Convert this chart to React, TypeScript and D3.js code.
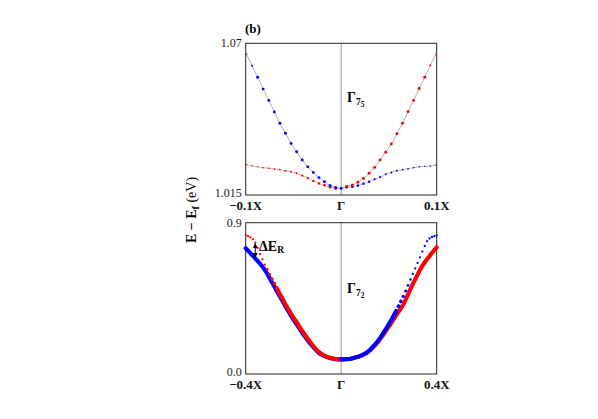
import React from 'react';
import * as d3 from 'd3';

const W = 598;
const H = 419;

// ---- upper panel (b): bands near 1.02 eV, |k| sampled on each side of Γ ----
const kTop = [0.0058, 0.0117, 0.0175, 0.0233, 0.0292, 0.035, 0.0408, 0.0467, 0.0525,
  0.0583, 0.0642, 0.07, 0.0758, 0.0817, 0.0875, 0.0933, 0.0992];
const topGamma = 1.0174;
const topUpperLeft = [1.0177, 1.0184, 1.0198, 1.0213, 1.0232, 1.0252, 1.0277, 1.0307, 1.0337,
  1.0374, 1.041, 1.0451, 1.0493, 1.0534, 1.0577, 1.0619, 1.0661];
const topUpperRight = [1.0181, 1.0186, 1.0196, 1.021, 1.0229, 1.025, 1.0277, 1.0305, 1.0335,
  1.0372, 1.041, 1.0452, 1.0493, 1.0536, 1.0577, 1.062, 1.0661];
const topLowerLeft = [1.0173, 1.0178, 1.0185, 1.0192, 1.0201, 1.0211, 1.022, 1.0229, 1.0234,
  1.0238, 1.0242, 1.0244, 1.0247, 1.0249, 1.0252, 1.0256, 1.026];
const topLowerRight = [1.0178, 1.018, 1.0184, 1.0191, 1.0198, 1.0207, 1.0215, 1.0225, 1.0232,
  1.0238, 1.0242, 1.0245, 1.0249, 1.0252, 1.0254, 1.0255, 1.0259];

// ---- lower panel: Γ7 bands, |k| from 0 to 0.4 ----
const kBot = [0, 0.01, 0.02, 0.03, 0.04, 0.05, 0.06, 0.07, 0.08, 0.09, 0.1, 0.11, 0.12, 0.13,
  0.14, 0.15, 0.16, 0.17, 0.18, 0.19, 0.2, 0.21, 0.22, 0.23, 0.24, 0.25, 0.26, 0.27, 0.28,
  0.29, 0.3, 0.31, 0.32, 0.33, 0.34, 0.35, 0.36, 0.37, 0.38, 0.39, 0.4];
// band A (ends high, with a shoulder at the zone edge)
const botALeft = [0.087, 0.087, 0.089, 0.091, 0.094, 0.098, 0.103, 0.109, 0.117, 0.127, 0.139,
  0.155, 0.173, 0.191, 0.21, 0.23, 0.25, 0.272, 0.294, 0.316, 0.336, 0.358, 0.382, 0.406,
  0.432, 0.458, 0.484, 0.511, 0.537, 0.565, 0.594, 0.622, 0.651, 0.682, 0.713, 0.75, 0.781,
  0.801, 0.813, 0.82, 0.825];
const botARight = [0.087, 0.087, 0.088, 0.089, 0.091, 0.095, 0.099, 0.103, 0.108, 0.114, 0.122,
  0.131, 0.143, 0.158, 0.174, 0.19, 0.209, 0.23, 0.252, 0.275, 0.298, 0.322, 0.348, 0.375,
  0.403, 0.432, 0.462, 0.494, 0.527, 0.562, 0.595, 0.628, 0.661, 0.694, 0.728, 0.762, 0.79,
  0.806, 0.815, 0.82, 0.824];
// band B (ends lower)
const botBLeft = [0.087, 0.087, 0.088, 0.09, 0.093, 0.096, 0.101, 0.106, 0.113, 0.122, 0.134,
  0.149, 0.165, 0.182, 0.2, 0.219, 0.238, 0.259, 0.281, 0.303, 0.324, 0.346, 0.37, 0.394,
  0.419, 0.444, 0.469, 0.494, 0.52, 0.546, 0.571, 0.596, 0.619, 0.639, 0.656, 0.672, 0.688,
  0.703, 0.718, 0.733, 0.748];
const botBRight = [0.087, 0.087, 0.088, 0.089, 0.091, 0.094, 0.098, 0.102, 0.107, 0.113, 0.12,
  0.129, 0.14, 0.153, 0.168, 0.184, 0.202, 0.221, 0.241, 0.262, 0.283, 0.304, 0.326, 0.348,
  0.37, 0.391, 0.413, 0.443, 0.474, 0.505, 0.535, 0.563, 0.591, 0.618, 0.643, 0.665, 0.684,
  0.701, 0.72, 0.737, 0.754];

const topYTicks = [1.07, 1.015];
const topYLabels = ['1.07', '1.015'];
const topXTicks = [-0.1, 0, 0.1];
const topXLabels = ['\u22120.1X', '\u0393', '0.1X'];
const botYTicks = [0.9, 0.0];
const botYLabels = ['0.9', '0.0'];
const botXTicks = [-0.4, 0, 0.4];
const botXLabels = ['\u22120.4X', '\u0393', '0.4X'];

const RED = '#ff0000';
const BLUE = '#0000ff';
const FONT = '"Liberation Serif", "DejaVu Serif", serif';

const left = 245.7, right = 436.7;
const xTop = d3.scaleLinear().domain([-0.1, 0.1]).range([left, right]);
const yTop = d3.scaleLinear().domain([1.015, 1.07]).range([195, 43.3]);
const xBot = d3.scaleLinear().domain([-0.4, 0.4]).range([left, right]);
const yBot = d3.scaleLinear().domain([0, 0.9]).range([374, 222.7]);

type Pt = { k: number; e: number; r: number };

const side = (ks: number[], es: number[], sign: number, rad: (i: number) => number): Pt[] =>
  ks.map((k, i) => ({ k: sign * k, e: es[i], r: rad(i) }));

const upperR = (i: number) => (i >= 16 ? 0.8 : i >= 15 ? 1.0 : 1.45);
const lowerR = (i: number) => 1.35 - (0.7 * i) / 16;

const topUpperL = side(kTop, topUpperLeft, -1, upperR);
const topUpperRt = side(kTop, topUpperRight, 1, upperR);
const topLowerL = side(kTop, topLowerLeft, -1, lowerR);
const topLowerRt = side(kTop, topLowerRight, 1, lowerR);

// band A: thick near Γ, thinning into separate dots towards the zone edge
const THICK = 2.05;
const taper = (k0: number, k1: number) => (i: number) => {
  const k = kBot[i];
  if (k <= k0) return THICK;
  if (k >= k1) return 1.15;
  return THICK - ((k - k0) / (k1 - k0)) * (THICK - 1.15);
};

const botAL = side(kBot, botALeft, -1, taper(0.27, 0.32));
const botAR = side(kBot, botARight, 1, taper(0.23, 0.3));
const botBL = side(kBot, botBLeft, -1, () => THICK);
const botBR = side(kBot, botBRight, 1, () => THICK);

const botPath = d3.line<Pt>().x(p => xBot(p.k)).y(p => yBot(p.e)).curve(d3.curveCatmullRom);

const Dots = ({ pts, x, y, color }: { pts: Pt[]; x: any; y: any; color: string }) => (
  <g fill={color}>
    {pts.map((p, i) => (
      <circle key={i} cx={x(p.k)} cy={y(p.e)} r={p.r} />
    ))}
  </g>
);

// dense scatter band: the k-points merge into a continuous trace while they are big
const Band = ({ pts, color }: { pts: Pt[]; color: string }) => {
  const thick = pts.filter(p => p.r >= THICK - 1e-9);
  const thin = pts.filter(p => p.r < THICK - 1e-9);
  return (
    <g>
      <path d={botPath(thick) || ''} fill="none" stroke={color} strokeWidth={THICK * 2}
        strokeLinecap="round" strokeLinejoin="round" />
      <Dots pts={thin} x={xBot} y={yBot} color={color} />
    </g>
  );
};

const Frame = ({ x, y, yTicks, yLabels, xTicks, xLabels }: any) => {
  const [x0, x1] = x.range();
  const [y0, y1] = y.range();
  return (
    <g fontFamily={FONT}>
      <line x1={x(0)} x2={x(0)} y1={y1} y2={y0} stroke="#9a9a9a" strokeWidth={1} />
      <rect x={x0} y={y1} width={x1 - x0} height={y0 - y1} fill="none" stroke="#222" strokeWidth={1} />
      {yTicks.map((t: number, i: number) => (
        <text key={'y' + i} x={x0 - 4} y={y(t) + (i === 0 ? 4 : 1.5)} textAnchor="end"
          fontSize={12} fill="#222">
          {yLabels[i]}
        </text>
      ))}
      {xTicks.map((t: number, i: number) => (
        <text key={'x' + i} x={x(t)} y={y0 + 14.5} textAnchor="middle" fontSize={13}
          fontWeight="bold" fill="#111">
          {xLabels[i]}
        </text>
      ))}
    </g>
  );
};

export default function App() {
  const line = d3.line<Pt>().x(p => xTop(p.k)).y(p => yTop(p.e));
  const g0: Pt = { k: 0, e: topGamma, r: 1.4 };
  const upperLine = [...[...topUpperL].reverse(), g0, ...topUpperRt];
  const lowerLine = [...[...topLowerL].reverse(), g0, ...topLowerRt];
  const arrowX = xBot(-kBot[36]);

  return (
    <svg width={W} height={H} style={{ position: 'absolute', left: 0, top: 0, background: '#fff' }}>
      <defs>
        <marker id="ah" viewBox="0 0 10 10" refX="9" refY="5" markerWidth="5" markerHeight="5"
          orient="auto-start-reverse">
          <path d="M0,0 L10,5 L0,10 z" fill="#000" />
        </marker>
      </defs>

      <text x={245} y={33} fontFamily={FONT} fontSize={13} fontWeight="bold">(b)</text>

      {/* upper panel */}
      <Frame x={xTop} y={yTop} yTicks={topYTicks} yLabels={topYLabels}
        xTicks={topXTicks} xLabels={topXLabels} />
      <path d={line(upperLine) || ''} fill="none" stroke="#a8a8a8" strokeWidth={0.9} />
      <path d={line(lowerLine) || ''} fill="none" stroke="#c8a8a8" strokeWidth={0.9} />
      <Dots pts={topLowerL} x={xTop} y={yTop} color={RED} />
      <Dots pts={topLowerRt} x={xTop} y={yTop} color={BLUE} />
      <Dots pts={topUpperL} x={xTop} y={yTop} color={BLUE} />
      <Dots pts={topUpperRt} x={xTop} y={yTop} color={RED} />
      <Dots pts={[g0]} x={xTop} y={yTop} color={BLUE} />
      <text x={347} y={102} fontFamily={FONT} fontWeight="bold" fontSize={14}>
        {'\u0393'}
        <tspan fontSize={9.5} dy={3}>7</tspan>
        <tspan fontSize={7.5} dy={1.5}>5</tspan>
      </text>

      {/* lower panel */}
      <Frame x={xBot} y={yBot} yTicks={botYTicks} yLabels={botYLabels}
        xTicks={botXTicks} xLabels={botXLabels} />
      <Band pts={botBL} color={BLUE} />
      <Band pts={botBR} color={RED} />
      <Band pts={botAL} color={RED} />
      <Band pts={botAR} color={BLUE} />
      <text x={347} y={293} fontFamily={FONT} fontWeight="bold" fontSize={14}>
        {'\u0393'}
        <tspan fontSize={9.5} dy={3}>7</tspan>
        <tspan fontSize={7.5} dy={1.5}>2</tspan>
      </text>

      <line x1={arrowX} x2={arrowX} y1={yBot(botALeft[36]) + 1} y2={yBot(botBLeft[36]) - 1}
        stroke="#000" strokeWidth={1} markerStart="url(#ah)" markerEnd="url(#ah)" />
      <text x={259} y={251} fontFamily={FONT} fontWeight="bold" fontSize={14}>
        {'\u0394E'}
        <tspan fontSize={9.5} dy={2}>R</tspan>
      </text>

      {/* y axis title */}
      <text transform="translate(196,210) rotate(-90)" textAnchor="middle" fontFamily={FONT}
        fontSize={14}>
        <tspan fontWeight="bold">E {'\u2212'} E</tspan>
        <tspan fontSize={10} dy={3} fontWeight="bold">f</tspan>
        <tspan dy={-3}> (eV)</tspan>
      </text>
    </svg>
  );
}
